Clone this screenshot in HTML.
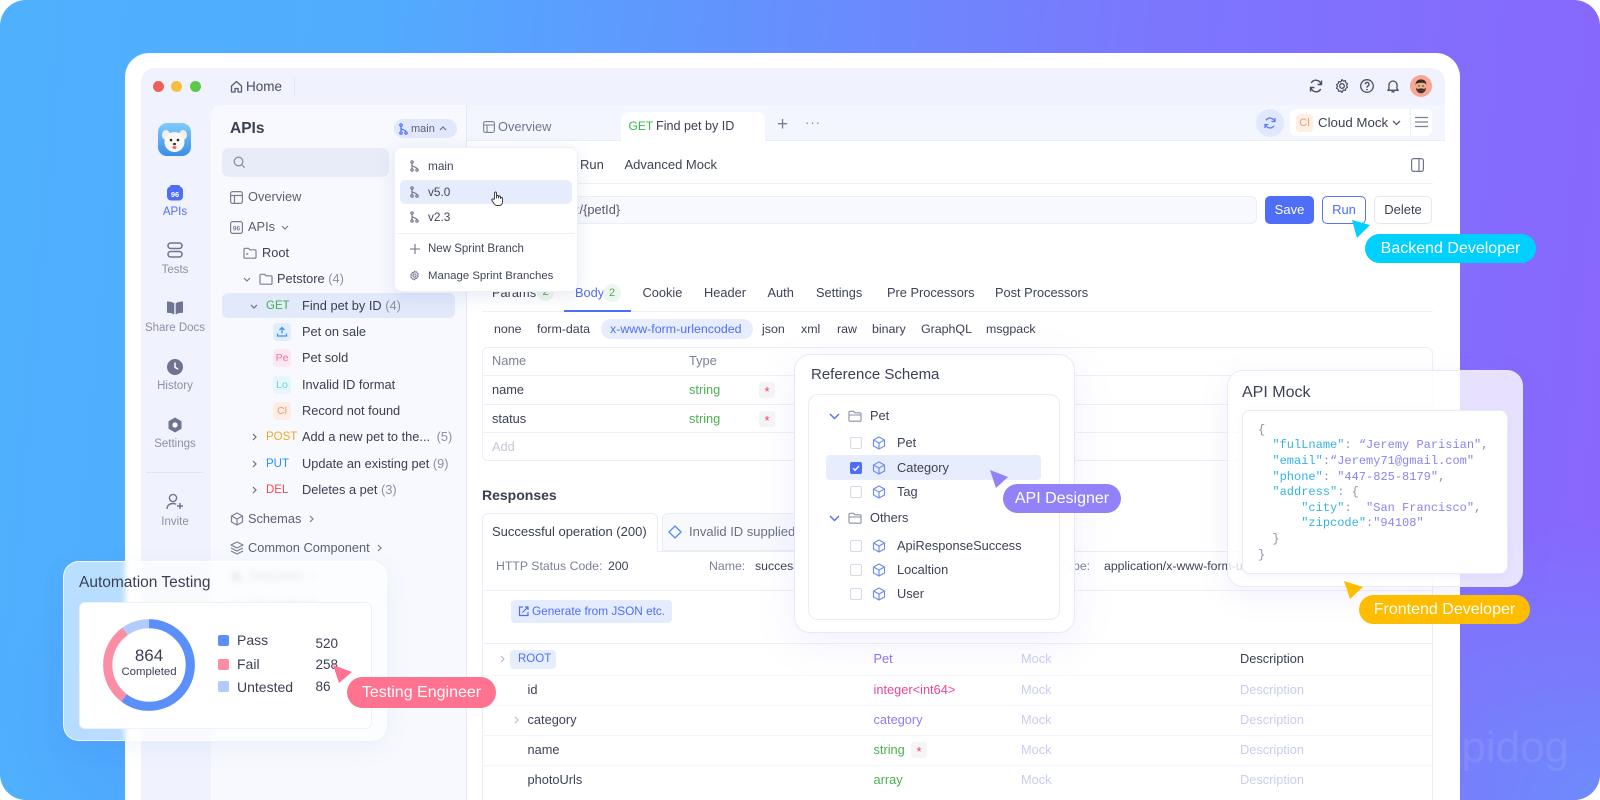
<!DOCTYPE html>
<html><head><meta charset="utf-8"><style>
*{box-sizing:border-box;margin:0;padding:0}
html,body{width:1600px;height:800px;overflow:hidden;background:#fff}
body{font-family:"Liberation Sans",sans-serif;color:#3d4256}
#root{position:relative;width:1600px;height:800px;overflow:hidden}
.a{position:absolute}
.t{position:absolute;white-space:nowrap;line-height:16px;font-size:12.8px}
.g{color:#8a8fa3}
.sb{position:absolute;left:135px;width:80px;text-align:center;font-size:11.5px;line-height:16px;color:#8a90a6}
.hl{position:absolute;height:1px;background:#eef1f8}
.pill{position:absolute;color:#fff;font-size:16px;text-align:center;border-radius:16px;white-space:nowrap}
.mono{font-family:"Liberation Mono",monospace;font-size:12px}
.k{color:#34b3e3}.v{color:#8a84ec}
.cb{position:absolute;width:12px;height:12px;border:1px solid #d5d9e5;border-radius:2px;background:#fff}
.mk{color:#c9cdee}
.req{position:absolute;width:16px;height:16px;border-radius:3px;background:#f5f5f8;color:#f2445f;font-size:13px;line-height:19px;text-align:center}
</style></head><body><div id="root">

<!-- background -->
<div class="a" style="left:0;top:0;width:1600px;height:800px;border-radius:26px;overflow:hidden;background:linear-gradient(95deg,#4fb0fe 0%,#51acfe 22%,#6392fd 45%,#7c76fd 70%,#8966fd 100%)">
  <div class="a" style="left:1250px;top:520px;width:700px;height:280px;background:radial-gradient(700px 560px at 350px 280px,rgba(104,146,252,0.85),rgba(104,146,252,0) 50%)"></div>
  <div class="a" style="left:0;top:560px;width:300px;height:240px;background:radial-gradient(300px 300px at 150px 150px,rgba(74,150,250,0.5),rgba(74,150,250,0) 50%)"></div>
  <div class="a" style="left:1432px;top:720px;font-size:44px;line-height:56px;color:rgba(255,255,255,0.09)">Apidog</div>
</div>

<!-- frame -->
<div class="a" style="left:125px;top:53px;width:1335px;height:747px;border-radius:24px 24px 0 0;background:#fff"></div>
<div class="a" style="left:141px;top:68px;width:1304px;height:732px;border-radius:14px 14px 0 0;background:#f0f3fd"></div>

<!-- top bar -->
<div class="a" style="left:152.5px;top:80.5px;width:11px;height:11px;border-radius:50%;background:#ee5f57"></div>
<div class="a" style="left:171px;top:80.5px;width:11px;height:11px;border-radius:50%;background:#f5bd41"></div>
<div class="a" style="left:189.5px;top:80.5px;width:11px;height:11px;border-radius:50%;background:#5cc84a"></div>
<svg class="a" style="left:230px;top:80px" width="13" height="13" viewBox="0 0 13 13"><path d="M1.5 6L6.5 1.5 11.5 6v6H8V8.5H5V12H1.5z" fill="none" stroke="#565b70" stroke-width="1.3" stroke-linejoin="round"/></svg>
<div class="t" style="left:246px;top:78.5px;font-size:13.5px;color:#474c60">Home</div>
<div class="a" style="left:294px;top:77px;width:1px;height:18px;background:#e3e7f4"></div>

<svg class="a" style="left:1308px;top:78px" width="16" height="16" viewBox="0 0 16 16"><path d="M13 6.5A5.2 5.2 0 0 0 3.3 5M3 9.5A5.2 5.2 0 0 0 12.7 11" fill="none" stroke="#4a4f63" stroke-width="1.4"/><path d="M13.5 2.5v4h-4M2.5 13.5v-4h4" fill="none" stroke="#4a4f63" stroke-width="1.4"/></svg>
<svg class="a" style="left:1334px;top:78px" width="16" height="16" viewBox="0 0 16 16"><circle cx="8" cy="8" r="2.3" fill="none" stroke="#4a4f63" stroke-width="1.3"/><path d="M8 1.5l1.3 1.6 2-.5.5 2 1.7 1.1-.9 1.8.9 1.8-1.7 1.1-.5 2-2-.5L8 14.5l-1.3-1.6-2 .5-.5-2-1.7-1.1.9-1.8-.9-1.8 1.7-1.1.5-2 2 .5z" fill="none" stroke="#4a4f63" stroke-width="1.2" stroke-linejoin="round"/></svg>
<svg class="a" style="left:1359px;top:78px" width="16" height="16" viewBox="0 0 16 16"><circle cx="8" cy="8" r="6.3" fill="none" stroke="#4a4f63" stroke-width="1.3"/><path d="M6.2 6.3a1.9 1.9 0 1 1 2.6 1.8c-.5.2-.8.6-.8 1.1v.6" fill="none" stroke="#4a4f63" stroke-width="1.3"/><circle cx="8" cy="11.6" r=".8" fill="#4a4f63"/></svg>
<svg class="a" style="left:1385px;top:78px" width="16" height="16" viewBox="0 0 16 16"><path d="M4 11V7a4 4 0 0 1 8 0v4l1.2 1.3H2.8z M6.5 13.8h3" fill="none" stroke="#4a4f63" stroke-width="1.3" stroke-linejoin="round"/></svg>
<svg class="a" style="left:1410px;top:75px" width="22" height="22" viewBox="0 0 22 22"><circle cx="11" cy="11" r="11" fill="#f6a796"/><ellipse cx="11" cy="12" rx="5.3" ry="6.3" fill="#e8b28d"/><path d="M5.6 10c0-4 2.4-5.6 5.4-5.6s5.4 1.6 5.4 5.6l-1-1.5c-1.5-1-6-1-8.8 0z" fill="#3b2a22"/><path d="M6 12.5c0 3.6 2.2 5.8 5 5.8s5-2.2 5-5.8c-1 1.3-2 1.6-2.6 1.3-1-.5-3.8-.5-4.8 0-.6.3-1.6 0-2.6-1.3z" fill="#4a3328"/><circle cx="9" cy="11" r=".7" fill="#222"/><circle cx="13" cy="11" r=".7" fill="#222"/></svg>

<!-- left sidebar -->
<svg class="a" style="left:158px;top:123px" width="33" height="33" viewBox="0 0 33 33"><defs><linearGradient id="dg" x1="0" y1="0" x2="0" y2="1"><stop offset="0" stop-color="#7fcdfd"/><stop offset="1" stop-color="#3a8de8"/></linearGradient></defs><rect width="33" height="33" rx="9" fill="url(#dg)"/><ellipse cx="8" cy="12" rx="4" ry="5" fill="#f3eee9"/><ellipse cx="25" cy="12" rx="4" ry="5" fill="#f3eee9"/><ellipse cx="16.5" cy="19" rx="10" ry="10" fill="#fbf8f4"/><circle cx="13" cy="17" r="1.3" fill="#222"/><circle cx="20" cy="17" r="1.3" fill="#222"/><ellipse cx="16.5" cy="21" rx="1.6" ry="1.1" fill="#333"/><ellipse cx="16.5" cy="24.5" rx="2" ry="1.6" fill="#f06a7a"/></svg>

<svg class="a" style="left:167px;top:185px" width="16" height="16" viewBox="0 0 16 16"><rect x="0" y="1.5" width="16" height="14" rx="4" fill="#4e6ef7"/><rect x="3" y="0" width="10" height="3" rx="1.5" fill="#4e6ef7"/><text x="8" y="12" font-size="7.5" font-weight="bold" fill="#fff" text-anchor="middle" font-family="Liberation Sans">96</text></svg>
<div class="sb" style="top:204px;color:#4e6ef7">APIs</div>
<svg class="a" style="left:167px;top:242px" width="16" height="16" viewBox="0 0 16 16"><rect x="1" y="1" width="14" height="5.5" rx="2.75" fill="none" stroke="#6e7491" stroke-width="1.6"/><rect x="1" y="9.5" width="14" height="5.5" rx="2.75" fill="none" stroke="#6e7491" stroke-width="1.6"/></svg>
<div class="sb" style="top:262px">Tests</div>
<svg class="a" style="left:167px;top:300px" width="16" height="15" viewBox="0 0 16 15"><path d="M0 1.5c3 0 5.5.5 7.3 1.8V14.5C5.5 13.2 3 12.7 0 12.7z M16 1.5c-3 0-5.5.5-7.3 1.8V14.5c1.8-1.3 4.3-1.8 7.3-1.8z" fill="#6e7491"/></svg>
<div class="sb" style="top:320px">Share Docs</div>
<svg class="a" style="left:167px;top:359px" width="16" height="16" viewBox="0 0 16 16"><circle cx="8" cy="8" r="8" fill="#6e7491"/><path d="M8 4v4.3l2.6 1.6" fill="none" stroke="#fff" stroke-width="1.5" stroke-linecap="round"/></svg>
<div class="sb" style="top:378px">History</div>
<svg class="a" style="left:167px;top:417px" width="16" height="16" viewBox="0 0 16 16"><path d="M8 .5l6.5 3.75v7.5L8 15.5 1.5 11.75v-7.5z" fill="#6e7491"/><circle cx="8" cy="8" r="2.6" fill="#fff"/></svg>
<div class="sb" style="top:436px">Settings</div>
<div class="a" style="left:146px;top:472px;width:57px;height:1px;background:#e1e5f2"></div>
<svg class="a" style="left:166px;top:493px" width="18" height="17" viewBox="0 0 18 17"><circle cx="7" cy="5" r="3.6" fill="none" stroke="#6e7491" stroke-width="1.4"/><path d="M1 16c0-3.5 2.7-5.5 6-5.5 1.3 0 2.4.3 3.3.8" fill="none" stroke="#6e7491" stroke-width="1.4"/><path d="M14 10v6M11 13h6" stroke="#6e7491" stroke-width="1.4"/></svg>
<div class="sb" style="top:514px">Invite</div>

<!-- tree panel -->
<div class="a" style="left:211px;top:105px;width:255px;height:695px;border-radius:10px 0 0 0;background:#f7f9fe"></div>
<div class="t" style="left:230px;top:120px;font-size:15.5px;line-height:18px;font-weight:bold;color:#3a3f52">APIs</div>
<div class="a" style="left:394px;top:119px;width:63px;height:19px;border-radius:10px;background:#e2e8fc"></div>
<svg class="a" style="left:399px;top:122.5px" width="9" height="12" viewBox="0 0 9 12"><g fill="none" stroke="#4e6ef7" stroke-width="1.2"><circle cx="2" cy="2" r="1.2"/><circle cx="2" cy="10" r="1.2"/><circle cx="7" cy="10" r="1.2"/><path d="M2 3.2v5.6M2 5c0 2.2 5 1.5 5 3.8"/></g></svg>
<div class="t" style="left:411px;top:120.5px;font-size:11px;color:#5b6075">main</div>
<svg class="a" style="left:439px;top:126px" width="8" height="5" viewBox="0 0 8 5"><path d="M1 4l3-3 3 3" fill="none" stroke="#6b7085" stroke-width="1.2"/></svg>
<div class="a" style="left:222px;top:148px;width:167px;height:29px;border-radius:7px;background:#e8ecf8"></div>
<svg class="a" style="left:233px;top:156px" width="13" height="13" viewBox="0 0 13 13"><circle cx="5.5" cy="5.5" r="4.3" fill="none" stroke="#8a90a6" stroke-width="1.3"/><path d="M8.7 8.7l3 3" stroke="#8a90a6" stroke-width="1.3"/></svg>

<svg class="a" style="left:229.5px;top:190.5px" width="13" height="13" viewBox="0 0 13 13"><rect x=".6" y=".6" width="11.8" height="11.8" rx="2" fill="none" stroke="#7a7f95" stroke-width="1.2"/><path d="M.6 4.5h11.8M4.5 4.5v7.9" stroke="#7a7f95" stroke-width="1.2"/></svg>
<div class="t" style="left:248px;top:189px;color:#5b6075">Overview</div>
<svg class="a" style="left:229.5px;top:220.5px" width="13" height="13" viewBox="0 0 13 13"><rect x=".6" y=".6" width="11.8" height="11.8" rx="2" fill="none" stroke="#7a7f95" stroke-width="1.2"/><text x="6.5" y="9.5" font-size="6.5" font-weight="bold" fill="#7a7f95" text-anchor="middle" font-family="Liberation Sans">96</text></svg>
<div class="t" style="left:248px;top:219px;color:#5b6075">APIs</div>
<svg class="a" style="left:281px;top:225px" width="8" height="5" viewBox="0 0 8 5"><path d="M1 1l3 3 3-3" fill="none" stroke="#7a7f95" stroke-width="1.2"/></svg>
<svg class="a" style="left:243px;top:247px" width="14" height="12" viewBox="0 0 14 12"><path d="M1 2.3a1 1 0 0 1 1-1h3.5L7 2.8h5a1 1 0 0 1 1 1v6.4a1 1 0 0 1-1 1H2a1 1 0 0 1-1-1z" fill="none" stroke="#7a7f95" stroke-width="1.2"/><path d="M3.5 6l1.3 1-1.3 1" fill="none" stroke="#7a7f95" stroke-width="1"/></svg>
<div class="t" style="left:262px;top:245px;color:#3a3f52">Root</div>
<svg class="a" style="left:243px;top:277px" width="8" height="5" viewBox="0 0 8 5"><path d="M1 1l3 3 3-3" fill="none" stroke="#7a7f95" stroke-width="1.2"/></svg>
<svg class="a" style="left:259px;top:273px" width="14" height="12" viewBox="0 0 14 12"><path d="M1 2.3a1 1 0 0 1 1-1h3.5L7 2.8h5a1 1 0 0 1 1 1v6.4a1 1 0 0 1-1 1H2a1 1 0 0 1-1-1z" fill="none" stroke="#7a7f95" stroke-width="1.2"/></svg>
<div class="t" style="left:277px;top:271px;color:#3a3f52">Petstore <span class="g">(4)</span></div>

<div class="a" style="left:222px;top:293px;width:233px;height:25px;border-radius:6px;background:#e2e9fb"></div>
<svg class="a" style="left:250px;top:303.5px" width="8" height="5" viewBox="0 0 8 5"><path d="M1 1l3 3 3-3" fill="none" stroke="#6b7085" stroke-width="1.2"/></svg>
<div class="t" style="left:266px;top:298px;font-size:11.5px;color:#3bb54a">GET</div>
<div class="t" style="left:302px;top:298px;color:#3a3f52">Find pet by ID <span class="g">(4)</span></div>

<div class="a" style="left:273px;top:323px;width:18px;height:18px;border-radius:4px;background:#e1ecfd"></div>
<svg class="a" style="left:276px;top:326px" width="12" height="12" viewBox="0 0 12 12"><path d="M6 1.5v6M3.5 4L6 1.5 8.5 4M1.5 7.5v2.5h9V7.5" fill="none" stroke="#3b97f2" stroke-width="1.3"/></svg>
<div class="t" style="left:302px;top:324px;color:#3a3f52">Pet on sale</div>
<div class="a" style="left:273px;top:349px;width:18px;height:18px;border-radius:4px;background:#fde8f1;color:#f26fa9;font-size:10.5px;line-height:18px;text-align:center">Pe</div>
<div class="t" style="left:302px;top:350px;color:#3a3f52">Pet sold</div>
<div class="a" style="left:273px;top:376px;width:18px;height:18px;border-radius:4px;background:#e5f7fa;color:#6fd0dc;font-size:10.5px;line-height:18px;text-align:center">Lo</div>
<div class="t" style="left:302px;top:377px;color:#3a3f52">Invalid ID format</div>
<div class="a" style="left:273px;top:402px;width:18px;height:18px;border-radius:4px;background:#fdeee5;color:#f3956b;font-size:10.5px;line-height:18px;text-align:center">Cl</div>
<div class="t" style="left:302px;top:403px;color:#3a3f52">Record not found</div>

<svg class="a" style="left:252px;top:433px" width="5" height="8" viewBox="0 0 5 8"><path d="M1 1l3 3-3 3" fill="none" stroke="#6b7085" stroke-width="1.2"/></svg>
<div class="t" style="left:266px;top:429px;font-size:11.5px;color:#f5a623">POST</div>
<div class="t" style="left:302px;top:429px;color:#3a3f52">Add a new pet to the... <span class="g" style="margin-left:3px">(5)</span></div>
<svg class="a" style="left:252px;top:460px" width="5" height="8" viewBox="0 0 5 8"><path d="M1 1l3 3-3 3" fill="none" stroke="#6b7085" stroke-width="1.2"/></svg>
<div class="t" style="left:266px;top:456px;font-size:11.5px;color:#2e8df3">PUT</div>
<div class="t" style="left:302px;top:456px;color:#3a3f52">Update an existing pet <span class="g">(9)</span></div>
<svg class="a" style="left:252px;top:486px" width="5" height="8" viewBox="0 0 5 8"><path d="M1 1l3 3-3 3" fill="none" stroke="#6b7085" stroke-width="1.2"/></svg>
<div class="t" style="left:266px;top:482px;font-size:11.5px;color:#f2494d">DEL</div>
<div class="t" style="left:302px;top:482px;color:#3a3f52">Deletes a pet <span class="g">(3)</span></div>

<svg class="a" style="left:229.5px;top:512px" width="14" height="14" viewBox="0 0 14 14"><path d="M7 1l5.5 3v6L7 13 1.5 10V4z M1.5 4L7 7l5.5-3 M7 7v6" fill="none" stroke="#7a7f95" stroke-width="1.2" stroke-linejoin="round"/></svg>
<div class="t" style="left:248px;top:511px;color:#5b6075">Schemas</div>
<svg class="a" style="left:309px;top:515px" width="5" height="8" viewBox="0 0 5 8"><path d="M1 1l3 3-3 3" fill="none" stroke="#7a7f95" stroke-width="1.2"/></svg>
<svg class="a" style="left:229.5px;top:541px" width="14" height="14" viewBox="0 0 14 14"><path d="M7 1l6 3-6 3-6-3z M1 7l6 3 6-3 M1 10l6 3 6-3" fill="none" stroke="#7a7f95" stroke-width="1.2" stroke-linejoin="round"/></svg>
<div class="t" style="left:248px;top:540px;color:#5b6075">Common Component</div>
<svg class="a" style="left:377px;top:544px" width="5" height="8" viewBox="0 0 5 8"><path d="M1 1l3 3-3 3" fill="none" stroke="#7a7f95" stroke-width="1.2"/></svg>
<div class="t" style="left:230px;top:568px;color:#c2c6d4">▣ &nbsp;Requests &nbsp;›</div>
<div class="t" style="left:230px;top:596px;color:#c2c6d4">◷ &nbsp;Cloud Mock</div>

<!-- main area -->
<div class="a" style="left:466px;top:105px;width:1px;height:695px;background:#e6eaf6"></div>
<div class="a" style="left:467px;top:105px;width:978px;height:36px;background:#f3f6fe;border-bottom:1px solid #e8ecf7"></div>
<div class="a" style="left:467px;top:141px;width:978px;height:659px;background:#fff"></div>
<svg class="a" style="left:483px;top:120.5px" width="12" height="12" viewBox="0 0 12 12"><rect x=".6" y=".6" width="10.8" height="10.8" rx="1.8" fill="none" stroke="#7a7f95" stroke-width="1.1"/><path d="M.6 4h10.8M4 4v7.4" stroke="#7a7f95" stroke-width="1.1"/></svg>
<div class="t" style="left:498px;top:118.5px;color:#70758a">Overview</div>
<div class="a" style="left:621px;top:112px;width:144px;height:30px;border-radius:8px 8px 0 0;background:#fff"></div>
<div class="t" style="left:628.5px;top:118px;font-size:12px;color:#3bb54a">GET</div>
<div class="t" style="left:656px;top:118px;font-size:12.6px;color:#3a3f52">Find pet by ID</div>
<div class="t" style="left:777px;top:116px;font-size:19px;line-height:18px;color:#7a7f95">+</div>
<div class="t" style="left:805px;top:115px;font-size:13px;color:#7a7f95;letter-spacing:1px">···</div>

<div class="a" style="left:1256px;top:108.5px;width:28px;height:28px;border-radius:50%;background:#e0e8fd"></div>
<svg class="a" style="left:1263px;top:115.5px" width="14" height="14" viewBox="0 0 14 14"><path d="M11.5 5.5A4.7 4.7 0 0 0 3 4.3M2.5 8.5A4.7 4.7 0 0 0 11 9.7" fill="none" stroke="#5a7cf7" stroke-width="1.3"/><path d="M12 2v3.5H8.5M2 12V8.5h3.5" fill="none" stroke="#5a7cf7" stroke-width="1.3"/></svg>
<div class="a" style="left:1290px;top:109px;width:142px;height:27px;border-radius:6px;background:#fff"></div>
<div class="a" style="left:1296px;top:113.5px;width:17px;height:18px;border-radius:4px;background:#fdeee6;color:#f59a6c;font-size:11px;line-height:18px;text-align:center">Cl</div>
<div class="t" style="left:1318px;top:114.5px;font-size:13.3px;color:#3d4256">Cloud Mock</div>
<svg class="a" style="left:1392px;top:120px" width="9" height="6" viewBox="0 0 9 6"><path d="M1 1l3.5 3.5L8 1" fill="none" stroke="#565b70" stroke-width="1.3"/></svg>
<div class="a" style="left:1410px;top:109px;width:1px;height:27px;background:#eceef5"></div>
<svg class="a" style="left:1415px;top:116px" width="13" height="12" viewBox="0 0 13 12"><path d="M0 1.5h13M0 6h13M0 10.5h13" stroke="#7a7f95" stroke-width="1.3"/></svg>

<div class="t" style="left:527px;top:157px;font-size:13px;color:#3d4256">Design</div>
<div class="t" style="left:580px;top:157px;font-size:13px;color:#3d4256">Run</div>
<div class="t" style="left:624.5px;top:157px;font-size:13px;color:#3d4256">Advanced Mock</div>
<svg class="a" style="left:1411px;top:158px" width="13" height="14" viewBox="0 0 13 14"><rect x=".6" y=".6" width="11.8" height="12.8" rx="2" fill="none" stroke="#6e7491" stroke-width="1.2"/><path d="M8 .6v12.8" stroke="#6e7491" stroke-width="1.2"/></svg>
<div class="hl" style="left:466px;top:183px;width:967px"></div>

<div class="a" style="left:480px;top:196px;width:777px;height:28px;border-radius:6px;background:#f8f9fe;border:1px solid #ebeef9"></div>
<div class="t" style="left:576px;top:202px;color:#555a6e">:/{petId}</div>
<div class="a" style="left:1265px;top:196px;width:49px;height:28px;border-radius:5px;background:#4e6ef7;color:#fff;font-size:13px;line-height:28px;text-align:center">Save</div>
<div class="a" style="left:1322px;top:196px;width:44px;height:28px;border-radius:5px;background:#fff;border:1px solid #5a76f7;color:#4e6ef7;font-size:13px;line-height:26px;text-align:center">Run</div>
<div class="a" style="left:1374px;top:196px;width:58px;height:28px;border-radius:5px;background:#fff;border:1px solid #e4e8f5;color:#3d4256;font-size:13px;line-height:26px;text-align:center">Delete</div>

<!-- params tabs -->
<div class="t" style="left:492px;top:285px;font-size:12.8px;color:#3d4256">Params</div>
<div class="a" style="left:537px;top:284px;width:17px;height:17px;border-radius:50%;background:#eef7ee;color:#4cb050;font-size:11px;line-height:17px;text-align:center">2</div>
<div class="t" style="left:575px;top:285px;color:#4e6ef7">Body</div>
<div class="a" style="left:603px;top:284px;width:18px;height:18px;border-radius:50%;background:#eef7ee;color:#4cb050;font-size:11px;line-height:18px;text-align:center">2</div>
<div class="t" style="left:642.5px;top:285px;color:#3d4256">Cookie</div>
<div class="t" style="left:704px;top:285px;color:#3d4256">Header</div>
<div class="t" style="left:767.5px;top:285px;color:#3d4256">Auth</div>
<div class="t" style="left:816px;top:285px;color:#3d4256">Settings</div>
<div class="t" style="left:887px;top:285px;color:#3d4256">Pre Processors</div>
<div class="t" style="left:995px;top:285px;color:#3d4256">Post Processors</div>
<div class="hl" style="left:482px;top:311px;width:951px"></div>
<div class="a" style="left:564px;top:309.5px;width:67px;height:2px;background:#4e6ef7"></div>

<div class="t" style="left:494px;top:321px;font-size:12.4px">none</div>
<div class="t" style="left:537px;top:321px;font-size:12.4px">form-data</div>
<div class="a" style="left:601px;top:319px;width:152px;height:20px;border-radius:10px;background:#e7edfd"></div>
<div class="t" style="left:610px;top:321px;font-size:12.4px;color:#4e6ef7">x-www-form-urlencoded</div>
<div class="t" style="left:762px;top:321px;font-size:12.4px">json</div>
<div class="t" style="left:801px;top:321px;font-size:12.4px">xml</div>
<div class="t" style="left:837px;top:321px;font-size:12.4px">raw</div>
<div class="t" style="left:872px;top:321px;font-size:12.4px">binary</div>
<div class="t" style="left:921px;top:321px;font-size:12.4px">GraphQL</div>
<div class="t" style="left:986px;top:321px;font-size:12.4px">msgpack</div>

<!-- params table -->
<div class="a" style="left:482px;top:347px;width:951px;height:114px;border-radius:6px;border:1px solid #eceff7"></div>
<div class="hl" style="left:483px;top:375px;width:949px"></div>
<div class="hl" style="left:483px;top:404px;width:949px"></div>
<div class="hl" style="left:483px;top:432px;width:949px"></div>
<div class="t" style="left:492px;top:353px;color:#7b8095">Name</div>
<div class="t" style="left:689px;top:353px;color:#7b8095">Type</div>
<div class="t" style="left:492px;top:382px">name</div>
<div class="t" style="left:689px;top:382px;color:#4cb050">string</div>
<div class="req" style="left:759px;top:382px">*</div>
<div class="t" style="left:492px;top:410.5px">status</div>
<div class="t" style="left:689px;top:410.5px;color:#4cb050">string</div>
<div class="req" style="left:759px;top:410.5px">*</div>
<div class="t" style="left:492px;top:439px;color:#c4c8d6">Add</div>

<!-- responses -->
<div class="t" style="left:482px;top:487px;font-size:14px;font-weight:bold;color:#3a3f52">Responses</div>
<div class="a" style="left:482px;top:551px;width:951px;height:249px;border:1px solid #eaedf6;border-bottom:none;border-radius:0 6px 0 0"></div>
<div class="a" style="left:662px;top:513px;width:140px;height:38px;border-radius:6px 6px 0 0;border:1px solid #eaedf6;background:#f7f9fc"></div>
<div class="a" style="left:482px;top:513px;width:176px;height:39px;border-radius:6px 6px 0 0;border:1px solid #eaedf6;border-bottom:none;background:#fff"></div>
<div class="t" style="left:492px;top:524px;font-size:13px;color:#3a3f52">Successful operation (200)</div>
<svg class="a" style="left:668px;top:525px" width="14" height="14" viewBox="0 0 14 14"><path d="M7 1l6 6-6 6-6-6z" fill="none" stroke="#4e8cf7" stroke-width="1.3"/></svg>
<div class="t" style="left:689px;top:524px;font-size:13px;color:#6b7085">Invalid ID supplied</div>
<div class="t" style="left:496px;top:558px;font-size:12.3px;color:#7b8095">HTTP Status Code:</div>
<div class="t" style="left:608px;top:558px;font-size:12.3px">200</div>
<div class="t" style="left:709px;top:558px;font-size:12.3px;color:#7b8095">Name:</div>
<div class="t" style="left:755px;top:558px;font-size:12.3px">success</div>
<div class="t" style="left:1060px;top:558px;font-size:12.3px;color:#7b8095">Type:</div>
<div class="t" style="left:1104px;top:558px;font-size:12.3px">application/x-www-form-urlencoded</div>
<div class="hl" style="left:483px;top:590px;width:949px"></div>
<div class="a" style="left:511px;top:600px;width:161px;height:23px;border-radius:4px;background:#e5ecfd"></div>
<svg class="a" style="left:518px;top:605.5px" width="11" height="11" viewBox="0 0 11 11"><path d="M5 1H1.5v8.5H10V6M4.5 6.5L10 1M7 1h3v3" fill="none" stroke="#4e6ef7" stroke-width="1.2"/></svg>
<div class="t" style="left:532px;top:603px;font-size:11.8px;color:#4e6ef7">Generate from JSON etc.</div>
<div class="hl" style="left:483px;top:643px;width:949px"></div>

<svg class="a" style="left:500px;top:655px" width="5" height="8" viewBox="0 0 5 8"><path d="M1 1l3 3-3 3" fill="none" stroke="#b5b9c8" stroke-width="1.1"/></svg>
<div class="a" style="left:510px;top:650px;width:46px;height:19px;border-radius:4px;background:#e6edfd"></div>
<div class="t" style="left:518px;top:651px;font-size:11.5px;color:#4e6ef7">ROOT</div>
<div class="t" style="left:873.5px;top:651px;color:#8b73f5">Pet</div>
<div class="t mk" style="left:1021px;top:651px">Mock</div>
<div class="t" style="left:1240px;top:651px;color:#3a3f52">Description</div>
<div class="hl" style="left:483px;top:674.5px;width:949px;background:#f4f6fb"></div>
<div class="t" style="left:527.5px;top:682px">id</div>
<div class="t" style="left:873.5px;top:682px;color:#ee4596">integer&lt;int64&gt;</div>
<div class="t mk" style="left:1021px;top:682px">Mock</div>
<div class="t mk" style="left:1240px;top:682px">Description</div>
<div class="hl" style="left:483px;top:704.5px;width:949px;background:#f4f6fb"></div>
<svg class="a" style="left:514px;top:715.5px" width="5" height="8" viewBox="0 0 5 8"><path d="M1 1l3 3-3 3" fill="none" stroke="#b5b9c8" stroke-width="1.1"/></svg>
<div class="t" style="left:527.5px;top:711.5px">category</div>
<div class="t" style="left:873.5px;top:711.5px;color:#8f7cf7">category</div>
<div class="t mk" style="left:1021px;top:711.5px">Mock</div>
<div class="t mk" style="left:1240px;top:711.5px">Description</div>
<div class="hl" style="left:483px;top:734.5px;width:949px;background:#f4f6fb"></div>
<div class="t" style="left:527.5px;top:742px">name</div>
<div class="t" style="left:873.5px;top:742px;color:#4cb050">string</div>
<div class="req" style="left:911px;top:742px">*</div>
<div class="t mk" style="left:1021px;top:742px">Mock</div>
<div class="t mk" style="left:1240px;top:742px">Description</div>
<div class="hl" style="left:483px;top:764.5px;width:949px;background:#f4f6fb"></div>
<div class="t" style="left:527.5px;top:771.5px">photoUrls</div>
<div class="t" style="left:873.5px;top:771.5px;color:#4cb050">array</div>
<div class="t mk" style="left:1021px;top:771.5px">Mock</div>
<div class="t mk" style="left:1240px;top:771.5px">Description</div>

<!-- branch dropdown -->
<div class="a" style="left:394px;top:147px;width:184px;height:145px;border-radius:8px;background:#fff;border:1px solid #eef0f8;box-shadow:0 4px 18px rgba(60,80,160,0.12)"></div>
<div class="a" style="left:400px;top:180px;width:172px;height:24px;border-radius:6px;background:#e6ecfc"></div>
<svg class="a" style="left:410px;top:160px" width="9" height="12" viewBox="0 0 9 12"><g fill="none" stroke="#6b7085" stroke-width="1.1"><circle cx="2" cy="2" r="1.2"/><circle cx="2" cy="10" r="1.2"/><circle cx="7" cy="10" r="1.2"/><path d="M2 3.2v5.6M2 5c0 2.2 5 1.5 5 3.8"/></g></svg>
<div class="t" style="left:428px;top:158px;font-size:11.8px;color:#40455a">main</div>
<svg class="a" style="left:410px;top:185.5px" width="9" height="12" viewBox="0 0 9 12"><g fill="none" stroke="#6b7085" stroke-width="1.1"><circle cx="2" cy="2" r="1.2"/><circle cx="2" cy="10" r="1.2"/><circle cx="7" cy="10" r="1.2"/><path d="M2 3.2v5.6M2 5c0 2.2 5 1.5 5 3.8"/></g></svg>
<div class="t" style="left:428px;top:184px;font-size:11.8px;color:#40455a">v5.0</div>
<svg class="a" style="left:410px;top:210.5px" width="9" height="12" viewBox="0 0 9 12"><g fill="none" stroke="#6b7085" stroke-width="1.1"><circle cx="2" cy="2" r="1.2"/><circle cx="2" cy="10" r="1.2"/><circle cx="7" cy="10" r="1.2"/><path d="M2 3.2v5.6M2 5c0 2.2 5 1.5 5 3.8"/></g></svg>
<div class="t" style="left:428px;top:209px;font-size:11.8px;color:#40455a">v2.3</div>
<div class="a" style="left:397px;top:233px;width:178px;height:1px;background:#eef0f6"></div>
<svg class="a" style="left:409.5px;top:244px" width="10" height="10" viewBox="0 0 10 10"><path d="M5 0v10M0 5h10" stroke="#6b7085" stroke-width="1.1"/></svg>
<div class="t" style="left:428px;top:241px;font-size:11.5px;color:#40455a">New Sprint Branch</div>
<svg class="a" style="left:409px;top:270px" width="11" height="11" viewBox="0 0 16 16"><circle cx="8" cy="8" r="2.3" fill="none" stroke="#6b7085" stroke-width="1.4"/><path d="M8 1.5l1.3 1.6 2-.5.5 2 1.7 1.1-.9 1.8.9 1.8-1.7 1.1-.5 2-2-.5L8 14.5l-1.3-1.6-2 .5-.5-2-1.7-1.1.9-1.8-.9-1.8 1.7-1.1.5-2 2 .5z" fill="none" stroke="#6b7085" stroke-width="1.3" stroke-linejoin="round"/></svg>
<div class="t" style="left:428px;top:268px;font-size:11.4px;color:#40455a">Manage Sprint Branches</div>
<svg class="a" style="left:491px;top:191px" width="12" height="15" viewBox="0 0 12 15"><path d="M3.5 8V2a1 1 0 0 1 2 0v5V5.5a1 1 0 0 1 2 0V7 6a1 1 0 0 1 2 0v1.5a1 1 0 0 1 2 0V11c0 2-1.5 3.5-3.5 3.5H6C4.5 14.5 3.5 13.5 2.5 12L1 9.5a1 1 0 0 1 1.6-1.2z" fill="#fff" stroke="#333" stroke-width="0.9" stroke-linejoin="round"/></svg>

<!-- Reference Schema card -->
<div class="a" style="left:794px;top:354px;width:281px;height:279px;border-radius:16px;background:rgba(255,255,255,0.96);border:1px solid #e6e9f8;box-shadow:0 10px 40px rgba(140,120,255,0.12)"></div>
<div class="t" style="left:811px;top:366px;font-size:15px;line-height:18px;color:#3b3f55">Reference Schema</div>
<div class="a" style="left:808px;top:394px;width:252px;height:226px;border-radius:10px;background:#fff;border:1px solid #e9ecf7"></div>
<svg class="a" style="left:829px;top:413px" width="11" height="7" viewBox="0 0 11 7"><path d="M1 1l4.5 4.5L10 1" fill="none" stroke="#4e6ef7" stroke-width="1.4"/></svg>
<svg class="a" style="left:848px;top:410px" width="14" height="12" viewBox="0 0 14 12"><path d="M1 2.3a1 1 0 0 1 1-1h3.5L7 2.8h5a1 1 0 0 1 1 1v6.4a1 1 0 0 1-1 1H2a1 1 0 0 1-1-1z M1 5h12" fill="none" stroke="#8a8fa3" stroke-width="1.1"/></svg>
<div class="t" style="left:870px;top:408px;font-size:12.8px">Pet</div>
<div class="cb" style="left:850px;top:437px"></div>
<svg class="a" style="left:871.5px;top:436px" width="14" height="14" viewBox="0 0 14 14"><path d="M7 1l5.5 3v6L7 13 1.5 10V4z M1.5 4L7 7l5.5-3 M7 7v6" fill="none" stroke="#6f8cf7" stroke-width="1.2" stroke-linejoin="round"/></svg>
<div class="t" style="left:897px;top:435px;font-size:12.8px">Pet</div>
<div class="a" style="left:826px;top:455px;width:215px;height:25px;border-radius:4px;background:#e7edfd"></div>
<div class="a" style="left:850px;top:461.5px;width:12px;height:12px;border-radius:2px;background:#4e6ef7"></div>
<svg class="a" style="left:850px;top:461.5px" width="12" height="12" viewBox="0 0 12 12"><path d="M3 6.2l2 2 4-4.2" fill="none" stroke="#fff" stroke-width="1.4"/></svg>
<svg class="a" style="left:871.5px;top:460.5px" width="14" height="14" viewBox="0 0 14 14"><path d="M7 1l5.5 3v6L7 13 1.5 10V4z M1.5 4L7 7l5.5-3 M7 7v6" fill="none" stroke="#6f8cf7" stroke-width="1.2" stroke-linejoin="round"/></svg>
<div class="t" style="left:897px;top:459.6px;font-size:12.8px">Category</div>
<div class="cb" style="left:850px;top:486px"></div>
<svg class="a" style="left:871.5px;top:485px" width="14" height="14" viewBox="0 0 14 14"><path d="M7 1l5.5 3v6L7 13 1.5 10V4z M1.5 4L7 7l5.5-3 M7 7v6" fill="none" stroke="#6f8cf7" stroke-width="1.2" stroke-linejoin="round"/></svg>
<div class="t" style="left:897px;top:484px;font-size:12.8px">Tag</div>
<svg class="a" style="left:829px;top:515px" width="11" height="7" viewBox="0 0 11 7"><path d="M1 1l4.5 4.5L10 1" fill="none" stroke="#4e6ef7" stroke-width="1.4"/></svg>
<svg class="a" style="left:848px;top:512px" width="14" height="12" viewBox="0 0 14 12"><path d="M1 2.3a1 1 0 0 1 1-1h3.5L7 2.8h5a1 1 0 0 1 1 1v6.4a1 1 0 0 1-1 1H2a1 1 0 0 1-1-1z M1 5h12" fill="none" stroke="#8a8fa3" stroke-width="1.1"/></svg>
<div class="t" style="left:870px;top:510px;font-size:12.8px">Others</div>
<div class="cb" style="left:850px;top:540px"></div>
<svg class="a" style="left:871.5px;top:539px" width="14" height="14" viewBox="0 0 14 14"><path d="M7 1l5.5 3v6L7 13 1.5 10V4z M1.5 4L7 7l5.5-3 M7 7v6" fill="none" stroke="#6f8cf7" stroke-width="1.2" stroke-linejoin="round"/></svg>
<div class="t" style="left:897px;top:538px;font-size:12.8px">ApiResponseSuccess</div>
<div class="cb" style="left:850px;top:564px"></div>
<svg class="a" style="left:871.5px;top:563px" width="14" height="14" viewBox="0 0 14 14"><path d="M7 1l5.5 3v6L7 13 1.5 10V4z M1.5 4L7 7l5.5-3 M7 7v6" fill="none" stroke="#6f8cf7" stroke-width="1.2" stroke-linejoin="round"/></svg>
<div class="t" style="left:897px;top:562px;font-size:12.8px">Localtion</div>
<div class="cb" style="left:850px;top:588px"></div>
<svg class="a" style="left:871.5px;top:587px" width="14" height="14" viewBox="0 0 14 14"><path d="M7 1l5.5 3v6L7 13 1.5 10V4z M1.5 4L7 7l5.5-3 M7 7v6" fill="none" stroke="#6f8cf7" stroke-width="1.2" stroke-linejoin="round"/></svg>
<div class="t" style="left:897px;top:586px;font-size:12.8px">User</div>

<!-- API Mock card -->
<div class="a" style="left:1227px;top:370px;width:296px;height:217px;border-radius:16px;background:rgba(255,255,255,0.8);border:1px solid rgba(228,232,250,0.9);box-shadow:0 8px 30px rgba(120,110,240,0.1)"></div>
<div class="t" style="left:1242px;top:384px;font-size:16px;line-height:18px;color:#3d4157">API Mock</div>
<div class="a" style="left:1242px;top:410px;width:266px;height:164px;border-radius:8px;background:#fff;border:1px solid #e8ebf8;box-shadow:0 2px 8px rgba(100,110,200,0.06)"></div>
<div class="a mono" style="left:1258px;top:422.8px;line-height:15.6px;white-space:pre;color:#9094a6">{
  <span class="k">"fulLname"</span>: <span class="v">“Jeremy Parisian"</span>,
  <span class="k">"email"</span>:<span class="v">“Jeremy71@gmail.com"</span>
  <span class="k">"phone"</span>: <span class="v">"447-825-8179"</span>,
  <span class="k">"address"</span>: {
      <span class="k">"city"</span>:  <span class="v">"San Francisco"</span>,
      <span class="k">"zipcode"</span>:<span class="v">"94108"</span>
  }
}</div>

<!-- Automation Testing card -->
<div class="a" style="left:63px;top:561px;width:324px;height:180px;border-radius:16px;background:rgba(255,255,255,0.6);border:1.5px solid rgba(255,255,255,0.85);backdrop-filter:blur(3px);-webkit-backdrop-filter:blur(3px);box-shadow:0 6px 24px rgba(80,110,200,0.08)"></div>
<div class="t" style="left:79px;top:574px;font-size:15.5px;line-height:18px;color:#3b3f55">Automation Testing</div>
<div class="a" style="left:79px;top:602px;width:293px;height:127px;border-radius:6px;background:#fff;border:1px solid #eef0fa"></div>
<svg class="a" style="left:98px;top:614px" width="102" height="102" viewBox="0 0 102 102">
  <g transform="rotate(-90 51 51)" fill="none" stroke-width="9.2">
    <circle cx="51" cy="51" r="41.3" stroke="#5b8ff9" stroke-dasharray="156.2 400"/>
    <circle cx="51" cy="51" r="41.3" stroke="#fb8da5" stroke-dasharray="77.5 400" stroke-dashoffset="-156.2"/>
    <circle cx="51" cy="51" r="41.3" stroke="#b2cbfd" stroke-dasharray="25.9 400" stroke-dashoffset="-233.7"/>
  </g>
</svg>
<div class="a" style="left:109px;top:646px;width:80px;text-align:center;font-size:17px;line-height:20px;color:#3b3f55">864</div>
<div class="a" style="left:104px;top:665px;width:90px;text-align:center;font-size:11.4px;line-height:14px;color:#3b3f55">Completed</div>
<div class="a" style="left:217.5px;top:634.5px;width:11px;height:11px;border-radius:2px;background:#5b8ff9"></div>
<div class="t" style="left:237px;top:632px;font-size:14px;color:#3b3f55">Pass</div>
<div class="t" style="left:315.5px;top:635.5px;font-size:13.5px;color:#3b3f55">520</div>
<div class="a" style="left:217.5px;top:658.5px;width:11px;height:11px;border-radius:2px;background:#fb8da5"></div>
<div class="t" style="left:237px;top:656px;font-size:14px;color:#3b3f55">Fail</div>
<div class="t" style="left:315.5px;top:657px;font-size:13.5px;color:#3b3f55">258</div>
<div class="a" style="left:217.5px;top:681px;width:11px;height:11px;border-radius:2px;background:#b2cbfd"></div>
<div class="t" style="left:237px;top:679px;font-size:14px;color:#3b3f55">Untested</div>
<div class="t" style="left:315.5px;top:679px;font-size:13.5px;color:#3b3f55">86</div>

<!-- pills & pointers -->
<svg class="a" style="left:0;top:0" width="1600" height="800" viewBox="0 0 1600 800">
  <polygon points="1352,220 1370,225 1357,238" fill="#00d0fe"/>
  <polygon points="990,470 1008,477 996,488" fill="#9282f7"/>
  <polygon points="1344,581 1363,587 1350,599" fill="#ffbd00"/>
  <polygon points="333,665 352,672 339,683" fill="#ff7290"/>
</svg>
<div class="pill" style="left:1365px;top:234px;width:171px;height:29px;line-height:29px;background:#00d0fe">Backend Developer</div>
<div class="pill" style="left:1003px;top:484px;width:118px;height:29px;line-height:29px;background:#9282f7">API Designer</div>
<div class="pill" style="left:1359px;top:595px;width:171px;height:29px;line-height:29px;background:#ffbd00">Frontend Developer</div>
<div class="pill" style="left:347px;top:677px;width:149px;height:31px;line-height:31px;background:#ff7290">Testing Engineer</div>

</div></body></html>
